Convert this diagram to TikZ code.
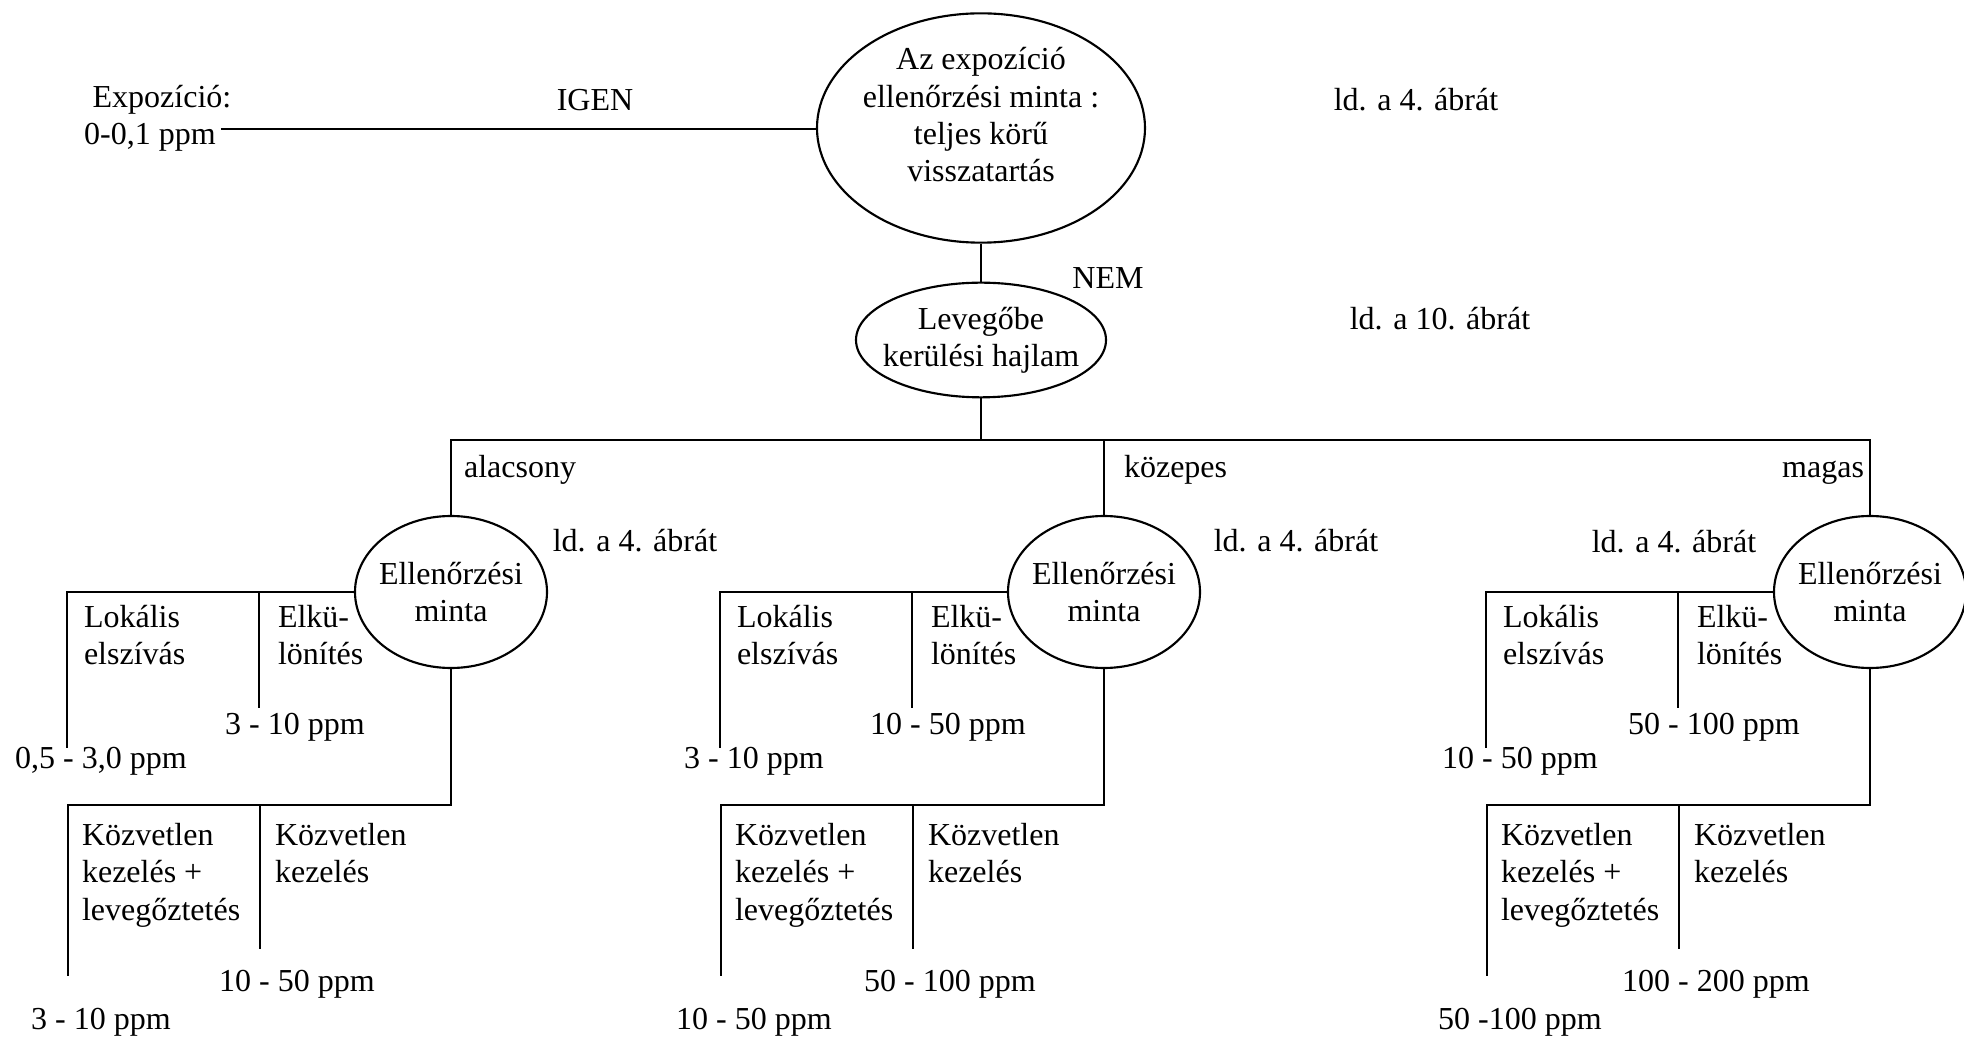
\documentclass[tikz,border=0pt]{standalone}
\usepackage{fontspec}
\setmainfont{Liberation Serif}
\usetikzlibrary{calc,shapes.geometric}

\tikzset{
  txt/.style={inner sep=0pt,font=\fontsize{12}{14}\selectfont},
  blk/.style={txt,align=left,anchor=north west},
  oval/.style={draw,ellipse,txt,align=center,inner xsep=-6pt},
}

\begin{document}
\begin{tikzpicture}[x=.375pt,y=-.375pt,line width=.8pt]
  \useasboundingbox (0,0) rectangle (1964,1040);
  % top: exposure control
  \node[oval,minimum width=123pt,minimum height=86pt](expo)at(981,128){Az expozíció\\ellenőrzési minta :\\teljes körű\\visszatartás\\[-4pt]};
  \node[txt](expolbl)at(162,100){Expozíció:};
  \node[txt](expoval)at(150,137){0-0,1 ppm};
  \node[txt](igen)at(595,100){IGEN};
  \node[txt](ref4)at(1416,100){ld. a 4. ábrát};
  \coordinate(expostart)at($(expoval.east)+(4,-8)$);
  \draw(expostart)--(expostart-|expo.west);
  % volatility
  \node[oval,minimum width=93.75pt,minimum height=43pt](air)at(981,340){Levegőbe\\kerülési hajlam};
  \node[txt](nem)at(1108,278){NEM};
  \node[txt](ref10)at(1440,319){ld. a 10. ábrát};
  \draw(expo)--(air);
  \coordinate(fork)at(981,440);
  \draw(air)--(fork);
  % three branches
  \foreach \c/\nm/\va/\vb/\vc/\vd in {451/low/{3 - 10 ppm}/{0,5 - 3,0 ppm}/{10 - 50 ppm}/{3 - 10 ppm},
      1104/mid/{10 - 50 ppm}/{3 - 10 ppm}/{50 - 100 ppm}/{10 - 50 ppm},
      1870/high/{50 - 100 ppm}/{10 - 50 ppm}/{100 - 200 ppm}/{50 -100 ppm}}{
    \node[oval,minimum width=72pt,minimum height=57pt](\nm)at(\c,592){Ellenőrzési\\minta};
    \draw(\nm.west)--++(-287,0)coordinate(\nm-k1)--++(0,156);
    \draw(\nm-k1)++(192,0)coordinate(\nm-k2)--++(0,116);
    \draw(\nm.south)--++(0,136)--++(-383,0)coordinate(\nm-k3)--++(0,171);
    \draw(\nm-k3)++(192,0)coordinate(\nm-k4)--++(0,144);
    \node[blk](\nm-t1)at($(\nm-k1)+(16,12)$){Lokális\\elszívás};
    \node[blk](\nm-t2)at($(\nm-k2)+(18,12)$){Elkü-\\lönítés};
    \node[blk](\nm-t3)at($(\nm-k3)+(13,17)$){Közvetlen\\kezelés +\\levegőztetés};
    \node[blk](\nm-t4)at($(\nm-k4)+(14,17)$){Közvetlen\\kezelés};
    \node[txt](\nm-v1)at(\c-156,727){\va};
    \node[txt](\nm-v2)at(\c-350,761){\vb};
    \node[txt](\nm-v3)at(\c-154,984){\vc};
    \node[txt](\nm-v4)at(\c-350,1022){\vd};
  }
  \draw(low.north)|-(fork)-|(high.north);
  \draw(mid.north)--(mid.north|-fork);
  \node[txt,anchor=west](lowlbl)at(463,470){alacsony};
  \node[txt,anchor=west](midlbl)at(1123,470){közepes};
  \node[txt,anchor=east](highlbl)at(1865,473){magas};
  \node[txt](lowref)at(635,541){ld. a 4. ábrát};
  \node[txt](midref)at(1296,541){ld. a 4. ábrát};
  \node[txt](highref)at(1674,542){ld. a 4. ábrát};
\end{tikzpicture}
\end{document}
